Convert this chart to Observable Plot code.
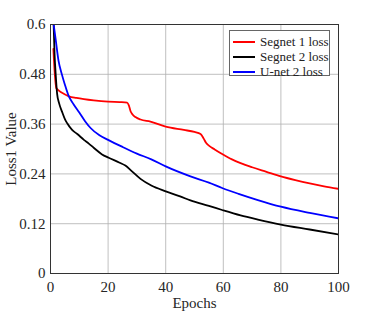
<!DOCTYPE html>
<html>
<head>
<meta charset="utf-8">
<script src="https://cdn.jsdelivr.net/npm/d3@7"></script>
<script src="https://cdn.jsdelivr.net/npm/@observablehq/plot@0.6"></script>
<style>
  body { margin: 0; background: #fff; }
  #wrap { position: relative; width: 374px; height: 312px; }
  #legend { position: absolute; left: 229px; top: 30px; width: 101px; height: 46px; box-sizing: border-box;
    padding-top: 3px; white-space: nowrap;
    border: 1px solid #666; background: #fff; font-family: "Liberation Serif", serif; font-size: 13px; color: #222; }
  .row { display: flex; align-items: center; height: 15px; line-height: 15px; }
  .sw { width: 22px; height: 0; border-top: 2px solid; margin: 0 5px 0 3px; flex: none; }
</style>
</head>
<body>
<div id="wrap"><div id="legend"></div></div>
<script>
const seriesNames = ["Segnet 1 loss", "Segnet 2 loss", "U-net 2 loss"];
const seriesColors = ["#ff0000", "#000000", "#0000ff"];

const seg1Epochs = [1, 1.5, 2, 3, 4.6, 6.4, 9, 11.6, 15, 20, 24, 26.6, 27.2, 27.8, 28.5, 29.5, 31.25, 34.7, 40, 46.3, 50, 52.1, 53.2, 54, 55, 57, 59.6, 63, 66, 70, 75, 80, 85, 90, 95, 100];
const seg1Loss   = [0.541, 0.48, 0.447, 0.44, 0.433, 0.427, 0.423, 0.42, 0.417, 0.414, 0.413, 0.412, 0.405, 0.391, 0.383, 0.377, 0.371, 0.366, 0.354, 0.346, 0.341, 0.336, 0.325, 0.315, 0.308, 0.299, 0.288, 0.275, 0.266, 0.256, 0.245, 0.234, 0.225, 0.217, 0.21, 0.204];

const seg2Epochs = [1, 1.4, 1.8, 2.3, 3, 4, 5, 5.8, 7.5, 9.3, 11.6, 13.3, 15, 17.9, 20.2, 24, 26, 28, 31.25, 35, 40, 45, 48.6, 55, 59.6, 66, 72, 80, 90, 100];
const seg2Loss   = [0.62, 0.53, 0.48, 0.433, 0.41, 0.39, 0.372, 0.362, 0.346, 0.336, 0.322, 0.313, 0.303, 0.287, 0.279, 0.267, 0.26, 0.248, 0.228, 0.212, 0.198, 0.186, 0.176, 0.163, 0.153, 0.14, 0.13, 0.118, 0.106, 0.094];

const unetEpochs = [1, 1.85, 2.78, 3.9, 5, 6.3, 8, 10, 12, 14, 17, 20, 25, 30, 35, 40, 48.6, 55, 59.6, 65.3, 72, 80, 90, 100];
const unetLoss   = [0.605, 0.561, 0.513, 0.481, 0.455, 0.428, 0.408, 0.388, 0.367, 0.35, 0.333, 0.322, 0.305, 0.289, 0.275, 0.258, 0.234, 0.219, 0.206, 0.192, 0.177, 0.161, 0.146, 0.133];

const xTicks = [0, 20, 40, 60, 80, 100];
const yTicks = [0, 0.12, 0.24, 0.36, 0.48, 0.6];

const rows = [];
[[seg1Epochs, seg1Loss], [seg2Epochs, seg2Loss], [unetEpochs, unetLoss]].forEach(([xs, ys], i) => {
  xs.forEach((e, j) => rows.push({series: seriesNames[i], epoch: e, loss: ys[j]}));
});

const font = "Liberation Serif, serif";
const chart = Plot.plot({
  width: 374,
  height: 312,
  marginLeft: 50,
  marginRight: 36,
  marginTop: 24,
  marginBottom: 39,
  style: {fontFamily: font, fontSize: "15px", color: "#262626", background: "#fff"},
  x: {domain: [0, 100], ticks: xTicks, label: "Epochs", labelAnchor: "center", labelArrow: "none", labelOffset: 34, tickSize: 0, tickPadding: 8},
  y: {domain: [0, 0.6], ticks: yTicks, label: "Loss1 Value", labelAnchor: "center", labelArrow: "none", labelOffset: 45, tickSize: 0, tickPadding: 5,
      tickFormat: d => d === 0 ? "0" : String(+d.toFixed(2))},
  color: {domain: seriesNames, range: seriesColors},
  marks: [
    Plot.gridX(xTicks, {stroke: "#b0b0b0", strokeOpacity: 0.8, strokeWidth: 1}),
    Plot.gridY(yTicks, {stroke: "#b0b0b0", strokeOpacity: 0.8, strokeWidth: 1}),
    Plot.lineY(rows, {x: "epoch", y: "loss", z: "series", stroke: "series", strokeWidth: 1.8, curve: "monotone-x", clip: true}),
    Plot.frame({stroke: "#333", strokeWidth: 1})
  ]
});
document.getElementById("wrap").prepend(chart);

const legend = document.getElementById("legend");
seriesNames.forEach((n, i) => {
  const r = document.createElement("div");
  r.className = "row";
  r.innerHTML = `<span class="sw" style="border-color:${seriesColors[i]}"></span><span>${n}</span>`;
  legend.appendChild(r);
});
</script>
</body>
</html>
